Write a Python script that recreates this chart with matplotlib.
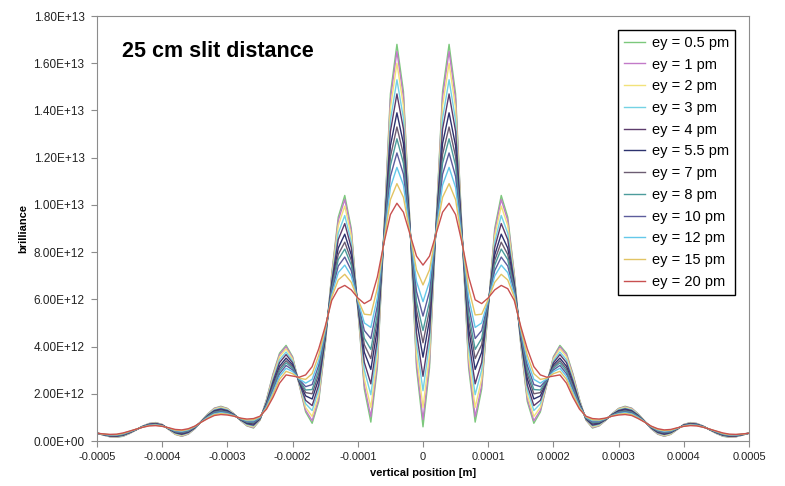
import numpy as np
import matplotlib
matplotlib.use("Agg")
import matplotlib.pyplot as plt
from matplotlib.ticker import FuncFormatter

# profile is symmetric about 0: only x >= 0 is listed, 10 um steps
x_half = np.arange(51) * 1e-5

# brilliance in units of 1e10
ey_0_5 = [60, 310, 920, 1480, 1680, 1470, 880, 310, 80, 220, 560, 900, 1040, 948, 707, 408, 167, 75, 123, 240,
          357, 405, 372, 284, 176, 88, 55, 64, 87, 115, 138, 147, 139, 115, 84, 52, 29, 20, 28, 49,
          70, 78, 74, 63, 47, 32, 20, 16, 18, 25, 33]
ey_1 = [91, 331, 918, 1457, 1650, 1447, 878, 327, 103, 236, 562, 888, 1023, 934, 702, 411, 177, 86, 130, 241,
        353, 399, 366, 280, 174, 89, 57, 65, 87, 115, 137, 145, 138, 114, 84, 52, 30, 21, 29, 49,
        70, 77, 74, 63, 47, 32, 21, 17, 18, 25, 33]
ey_2 = [142, 366, 915, 1419, 1600, 1409, 875, 356, 142, 263, 565, 869, 995, 912, 694, 417, 194, 104, 142, 244,
        347, 390, 357, 272, 171, 90, 60, 67, 88, 114, 135, 143, 135, 113, 84, 53, 32, 23, 30, 50,
        69, 76, 73, 62, 47, 33, 22, 18, 19, 26, 33]
ey_3 = [213, 415, 910, 1366, 1530, 1356, 870, 396, 196, 301, 570, 842, 955, 880, 682, 425, 217, 129, 158, 247,
        339, 377, 344, 262, 167, 92, 64, 70, 89, 113, 132, 139, 132, 111, 83, 54, 34, 26, 33, 51,
        68, 75, 72, 62, 48, 34, 23, 19, 20, 26, 33]
ey_4 = [274, 458, 906, 1321, 1470, 1311, 867, 430, 242, 333, 574, 819, 921, 853, 672, 432, 237, 150, 172, 249,
        331, 366, 332, 253, 163, 93, 67, 73, 90, 112, 129, 136, 129, 109, 83, 55, 36, 28, 35, 51,
        68, 74, 71, 61, 48, 35, 24, 20, 21, 27, 33]
ey_5_5 = [355, 514, 901, 1260, 1390, 1250, 861, 476, 303, 376, 580, 788, 876, 817, 659, 441, 263, 178, 191, 253,
          322, 351, 317, 241, 158, 95, 72, 76, 91, 111, 126, 132, 126, 106, 82, 57, 39, 32, 37, 52,
          67, 72, 70, 61, 48, 36, 26, 22, 22, 27, 33]
ey_7 = [416, 556, 897, 1214, 1330, 1204, 858, 510, 349, 408, 584, 765, 842, 790, 649, 448, 283, 200, 205, 256,
        314, 340, 306, 233, 155, 97, 76, 79, 92, 110, 123, 129, 123, 105, 82, 58, 41, 34, 39, 53,
        66, 71, 69, 60, 49, 37, 27, 23, 23, 28, 33]
ey_8 = [468, 591, 894, 1176, 1280, 1166, 854, 539, 388, 435, 587, 745, 813, 768, 640, 454, 300, 218, 216, 258,
        308, 331, 296, 225, 152, 98, 79, 81, 93, 109, 121, 126, 121, 103, 82, 59, 43, 36, 40, 53,
        65, 70, 68, 60, 49, 38, 28, 24, 24, 28, 33]
ey_10 = [529, 634, 890, 1130, 1220, 1120, 851, 573, 434, 468, 591, 722, 779, 741, 630, 461, 320, 239, 230, 261,
         301, 320, 285, 216, 148, 100, 82, 84, 94, 108, 119, 123, 118, 101, 81, 60, 45, 38, 42, 54,
         65, 69, 67, 60, 49, 39, 30, 25, 25, 28, 33]
ey_12 = [590, 676, 886, 1084, 1159, 1074, 847, 608, 481, 500, 596, 699, 745, 713, 620, 468, 340, 261, 245, 263,
         294, 308, 274, 207, 144, 101, 86, 86, 95, 107, 116, 120, 115, 100, 81, 61, 47, 41, 44, 54,
         64, 68, 66, 59, 49, 40, 31, 26, 26, 29, 33]
ey_15 = [661, 725, 881, 1032, 1090, 1022, 842, 648, 534, 537, 600, 672, 706, 682, 609, 476, 363, 285, 261, 266,
         285, 295, 261, 197, 140, 103, 90, 89, 96, 106, 113, 116, 112, 97, 80, 62, 49, 44, 46, 55,
         63, 67, 65, 59, 50, 41, 32, 27, 27, 29, 33]
ey_20 = [745, 783, 876, 969, 1007, 959, 837, 695, 598, 582, 606, 640, 659, 645, 595, 485, 390, 315, 280, 270,
         275, 280, 245, 185, 135, 105, 95, 93, 97, 105, 110, 112, 108, 95, 80, 63, 52, 47, 49, 56,
         62, 65, 64, 58, 50, 42, 34, 29, 28, 30, 33]

series = [ey_0_5, ey_1, ey_2, ey_3, ey_4, ey_5_5, ey_7, ey_8, ey_10, ey_12, ey_15, ey_20]
labels = ["ey = 0.5 pm", "ey = 1 pm", "ey = 2 pm", "ey = 3 pm", "ey = 4 pm",
          "ey = 5.5 pm", "ey = 7 pm", "ey = 8 pm", "ey = 10 pm", "ey = 12 pm",
          "ey = 15 pm", "ey = 20 pm"]
colors = ["#7cc87c", "#c27ac8", "#f2e27a", "#74d2e4", "#5c3c6c", "#2c326e",
          "#6c5c72", "#4c9c9c", "#5c5c9c", "#64c8ea", "#e2c464", "#c85050"]
xtick_labels = ["-0.0005", "-0.0004", "-0.0003", "-0.0002", "-0.0001", "0",
                "0.0001", "0.0002", "0.0003", "0.0004", "0.0005"]

plt.rcParams['font.family'] = ['Liberation Sans', 'DejaVu Sans']
fig = plt.figure(figsize=(7.85, 4.86), dpi=100)
ax = fig.add_axes([97 / 785, 1 - 441 / 486, 652 / 785, 425 / 486])

x = np.concatenate([-x_half[:0:-1], x_half])
for y, c, lab in zip(series, colors, labels):
    y = np.array(y) * 1e10
    ax.plot(x, np.concatenate([y[:0:-1], y]), color=c, lw=1.0, label=lab)

ax.set_xlim(-0.0005, 0.0005)
ax.set_ylim(0, 1.8e13)
ax.set_xticks(np.arange(-5, 6) * 1e-4)
ax.set_xticklabels(xtick_labels)
ax.set_yticks(np.arange(0, 19, 2) * 1e12)
ax.yaxis.set_major_formatter(FuncFormatter(lambda v, p: "%.2E" % v))
for s in ax.spines.values():
    s.set_color("#8c8c8c")
ax.tick_params(direction="out", length=4, color="#8c8c8c", colors="#222222")
ax.tick_params(axis="y", labelsize=8.5, pad=5)
ax.tick_params(axis="x", labelsize=8, pad=4)
ax.set_xlabel("vertical position [m]", fontsize=8, fontweight="bold")
ax.set_ylabel("brilliance", fontsize=8, fontweight="bold")

ax.legend(loc="upper right", bbox_to_anchor=(735 / 785, 1 - 30 / 486),
          bbox_transform=fig.transFigure, fontsize=10.5, frameon=True,
          fancybox=False, edgecolor="black", framealpha=1, handlelength=1.45,
          handletextpad=0.45, labelspacing=0.53, borderpad=0.4, borderaxespad=0)
fig.text(122 / 785, 1 - 57 / 486, "25 cm slit distance", fontsize=15.5,
         fontweight="bold")

fig.savefig("out.png")
